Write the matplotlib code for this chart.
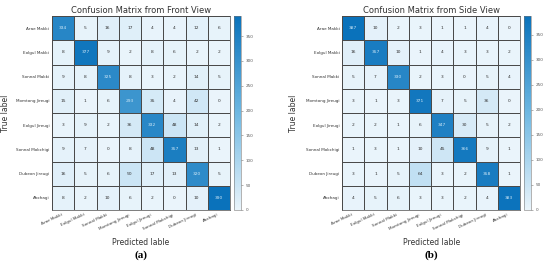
import matplotlib
matplotlib.use("Agg")
import matplotlib.pyplot as plt
import numpy as np
from matplotlib.colors import LinearSegmentedColormap

classes = ["Arae Makki", "Eolgul Makki", "Sonnal Makki", "Momtong Jireugi",
           "Eolgul Jireugi", "Sonnal Mokchigi", "Dubeon Jireugi", "Abchagi"]

front = [[334, 5, 16, 17, 4, 4, 12, 6],
         [8, 377, 9, 2, 8, 6, 2, 2],
         [9, 8, 325, 8, 3, 2, 14, 5],
         [15, 1, 6, 293, 35, 4, 42, 0],
         [3, 9, 2, 36, 332, 48, 14, 2],
         [9, 7, 0, 8, 48, 357, 13, 1],
         [16, 5, 6, 50, 17, 13, 320, 5],
         [8, 2, 10, 6, 2, 0, 10, 390]]

side = [[387, 10, 2, 3, 1, 1, 4, 0],
        [16, 357, 10, 1, 4, 3, 3, 2],
        [5, 7, 330, 2, 3, 0, 5, 4],
        [3, 1, 3, 371, 7, 5, 36, 0],
        [2, 2, 1, 6, 347, 30, 5, 2],
        [1, 3, 1, 10, 45, 366, 9, 1],
        [3, 1, 5, 64, 3, 2, 358, 1],
        [4, 5, 6, 3, 3, 2, 4, 383]]

titles = ["Confusion Matrix from Front View", "Confusion Matrix from Side View"]
tags = ["(a)", "(b)"]

cmap = LinearSegmentedColormap.from_list("cm", ["#eaf4fb", "#6fb8e2", "#0a72bb"])

fig = plt.figure(figsize=(5.5, 2.67), dpi=100)

def draw(mat, title, tag, left, ylab_x):
    mat = np.array(mat)
    ax = fig.add_axes([left, 0.2135, 0.324, 0.726])
    cax = fig.add_axes([left + 0.331, 0.2135, 0.0127, 0.726])
    n = len(classes)
    im = ax.pcolormesh(np.arange(n + 1), np.arange(n + 1), mat, cmap=cmap,
                       vmin=0, vmax=mat.max(), edgecolor="#4a4a4a", linewidth=0.5)
    ax.set_xlim(0, n)
    ax.set_ylim(n, 0)
    for i in range(n):
        for j in range(n):
            c = "#cfe8f7" if mat[i, j] > 250 else "#333333"
            ax.text(j + 0.5, i + 0.5, str(mat[i, j]), ha="center", va="center",
                    fontsize=3.2, color=c)
    ax.set_xticks(np.arange(n) + 0.5)
    ax.set_yticks(np.arange(n) + 0.5)
    ax.set_xticklabels(classes, rotation=25, ha="right", fontsize=3, color="#333333")
    ax.set_yticklabels(classes, fontsize=3, color="#333333")
    ax.tick_params(length=0, pad=2)
    for s in ax.spines.values():
        s.set_color("#4a4a4a")
        s.set_linewidth(0.5)
    ax.set_title(title, fontsize=6, color="#333333", pad=2)
    ax.set_xlabel("Predicted lable", fontsize=5.5, color="#333333")
    ax.set_ylabel("True label", fontsize=5.5, color="#333333")
    ax.xaxis.set_label_coords(0.5, -0.145)
    ax.yaxis.set_label_coords(ylab_x, 0.5)
    cb = fig.colorbar(im, cax=cax)
    cb.set_ticks(np.arange(0, 351, 50))
    cb.ax.tick_params(labelsize=3, length=1.5, width=0.4, color="#777777",
                      labelcolor="#555555", pad=2)
    cb.outline.set_linewidth(0.4)
    cb.outline.set_edgecolor("#777777")
    fig.text(left + 0.162, 0.045, tag, ha="center", va="center", fontsize=8,
             fontweight="bold", family="Liberation Serif")

draw(front, titles[0], tags[0], 0.0945, -0.236)
draw(side, titles[1], tags[1], 0.622, -0.247)

fig.savefig("out.png", dpi=100)
